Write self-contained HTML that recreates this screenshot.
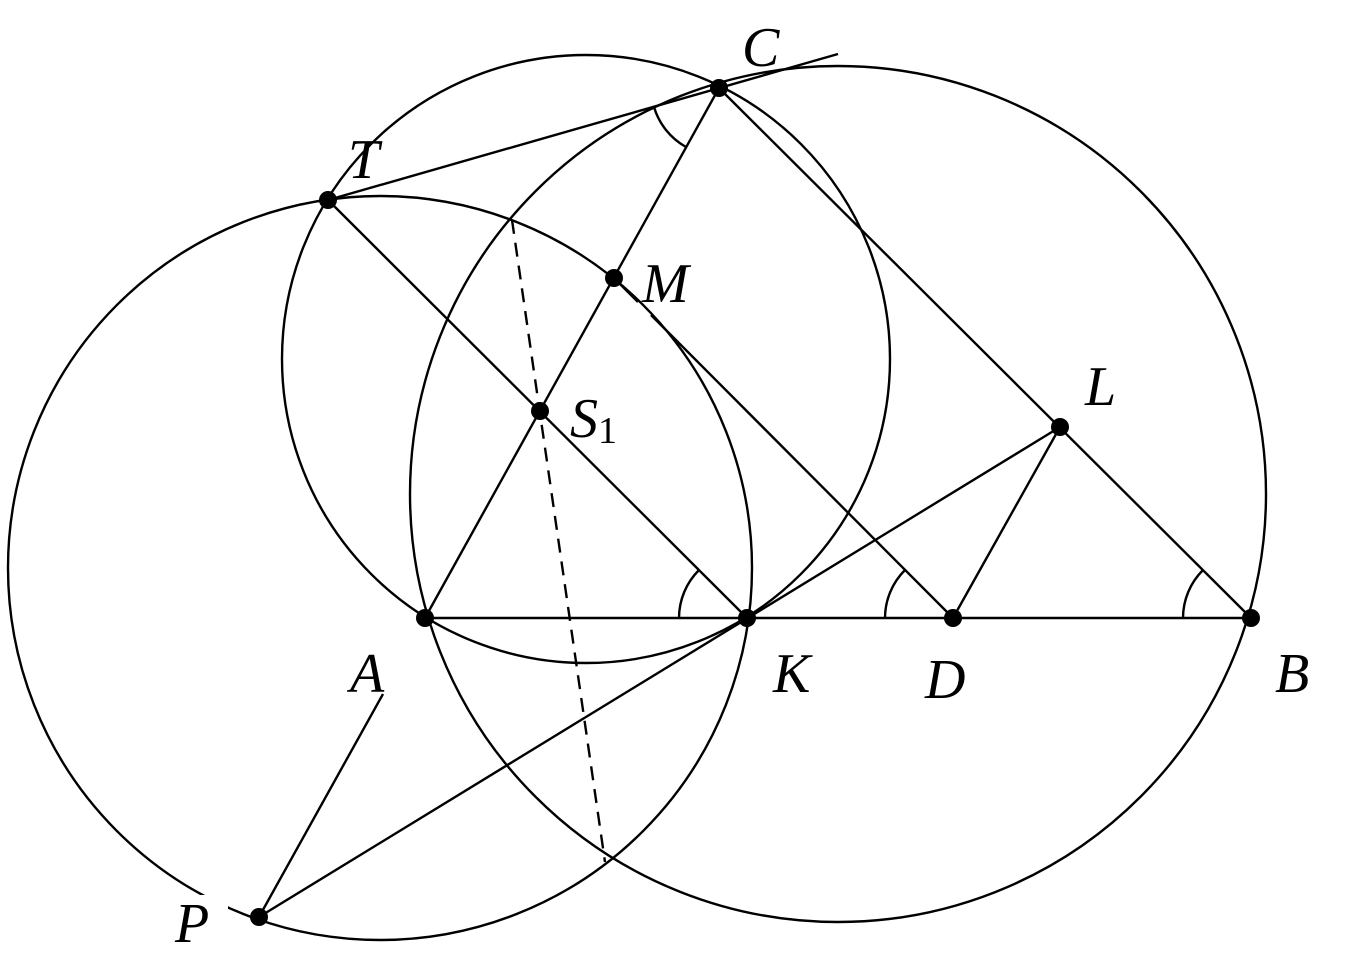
<!DOCTYPE html>
<html><head><meta charset="utf-8"><style>
html,body{margin:0;padding:0;background:#fff;}
svg{display:block;}
text{font-family:"Liberation Serif",serif;font-style:italic;font-size:56px;fill:#000;}
</style></head><body>
<svg width="1355" height="965" viewBox="0 0 1355 965" xmlns="http://www.w3.org/2000/svg">
<g fill="none" stroke="#000" stroke-width="2.4">
<circle cx="838" cy="494" r="428"/>
<circle cx="586" cy="359" r="304"/>
<circle cx="380" cy="568" r="372"/>
<line x1="328" y1="200" x2="838" y2="54"/>
<line x1="719" y1="88" x2="425" y2="618"/>
<line x1="719" y1="88" x2="1251" y2="618"/>
<line x1="328" y1="200" x2="747" y2="618"/>
<line x1="614" y1="278" x2="638" y2="302"/>
<line x1="651" y1="315" x2="953" y2="618"/>
<line x1="425" y1="618" x2="1251" y2="618"/>
<line x1="259" y1="917" x2="1060" y2="427"/>
<line x1="953" y1="618" x2="1060" y2="427"/>
<line x1="383" y1="694" x2="259" y2="917"/>
<line x1="512" y1="220" x2="605" y2="862" stroke-dasharray="14,9"/>
<path d="M679 618 A68 68 0 0 1 699 570"/>
<path d="M885 618 A68 68 0 0 1 905 570"/>
<path d="M1183 618 A68 68 0 0 1 1203 570"/>
<path d="M654 107 A68 68 0 0 0 686 147"/>
</g>
<g fill="#fff" stroke="none">
<rect x="180" y="895" width="48" height="30"/>
</g>
<g fill="#000">
<circle cx="425" cy="618" r="9"/><circle cx="747" cy="618" r="9"/>
<circle cx="953" cy="618" r="9"/><circle cx="1251" cy="618" r="9"/>
<circle cx="719" cy="88" r="9"/><circle cx="328" cy="200" r="9"/>
<circle cx="614" cy="278" r="9"/><circle cx="540" cy="411" r="9"/>
<circle cx="1060" cy="427" r="9"/><circle cx="259" cy="917" r="9"/>
</g>
<text x="742" y="66">C</text>
<text x="348" y="178">T</text>
<text x="642" y="302">M</text>
<text x="570" y="437">S<tspan font-style="normal" font-size="38" dy="6">1</tspan></text>
<text x="1085" y="405">L</text>
<text x="350" y="692">A</text>
<text x="773" y="692">K</text>
<text x="925" y="698">D</text>
<text x="1275" y="692">B</text>
<text x="175" y="942">P</text>
</svg>
</body></html>
